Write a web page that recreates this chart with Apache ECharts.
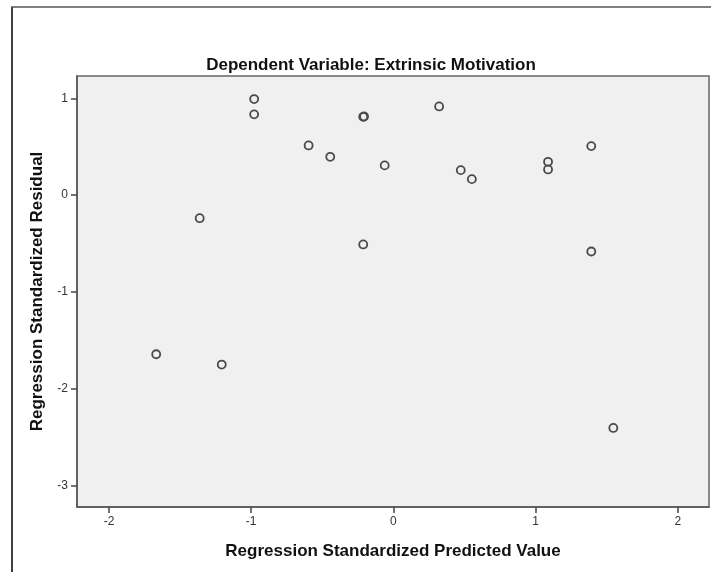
<!DOCTYPE html>
<html>
<head>
<meta charset="utf-8">
<script src="https://cdn.jsdelivr.net/npm/echarts@6/dist/echarts.min.js"></script>
<style>
html,body{margin:0;padding:0;background:#fff;}
#c{width:711px;height:572px;}
</style>
</head>
<body>
<div id="c"></div>
<script>
const predicted = [-0.979, -0.979, -0.212, -0.206, -0.596, -0.444, -0.061, -1.362, -0.212, 0.322, 0.474, 0.552, 1.088, 1.088, 1.392, 1.392, -1.668, -1.207, 1.547];
const residual  = [0.992, 0.834, 0.809, 0.812, 0.513, 0.396, 0.307, -0.238, -0.509, 0.916, 0.258, 0.165, 0.344, 0.265, 0.506, -0.582, -1.643, -1.749, -2.404];
const xTicks = [-2, -1, 0, 1, 2];
const yTicks = [-3, -2, -1, 0, 1];
const titleText = 'Dependent Variable: Extrinsic Motivation';
const xName = 'Regression Standardized Predicted Value';
const yName = 'Regression Standardized Residual';

const points = predicted.map((x, i) => [x, residual[i]]);
const chart = echarts.init(document.getElementById('c'), null, {renderer: 'canvas'});
const fontFam = '"Liberation Sans", Arial, sans-serif';
chart.setOption({
  animation: false,
  backgroundColor: '#ffffff',
  title: {
    text: titleText,
    left: 366, top: 52, textAlign: 'center',
    textStyle: {fontFamily: fontFam, fontSize: 17, fontWeight: 'bold', color: '#111'}
  },
  grid: {left: 77, right: 2, top: 76, bottom: 65, show: true, backgroundColor: '#f0f0f0', borderColor: '#666', borderWidth: 1.5},
  xAxis: {
    type: 'value', min: -2.225, max: 2.22,
    name: xName, nameLocation: 'middle', nameGap: 36,
    nameTextStyle: {fontFamily: fontFam, fontSize: 17, fontWeight: 'bold', color: '#111'},
    axisLine: {show: true, onZero: false, lineStyle: {color: '#555', width: 1.5}},
    axisTick: {show: true, length: 6, customValues: xTicks, lineStyle: {color: '#444', width: 1.5}},
    axisLabel: {customValues: xTicks, fontFamily: fontFam, fontSize: 12, color: '#333', margin: 9},
    splitLine: {show: false}
  },
  yAxis: {
    type: 'value', min: -3.22, max: 1.23,
    name: yName, nameLocation: 'middle', nameGap: 31, nameRotate: 90,
    nameTextStyle: {fontFamily: fontFam, fontSize: 17, fontWeight: 'bold', color: '#111'},
    axisLine: {show: true, onZero: false, lineStyle: {color: '#555', width: 1.5}},
    axisTick: {show: true, length: 6, customValues: yTicks, lineStyle: {color: '#444', width: 1.5}},
    axisLabel: {customValues: yTicks, fontFamily: fontFam, fontSize: 12, color: '#333', margin: 9},
    splitLine: {show: false}
  },
  graphic: [
    {type: 'line', shape: {x1: 12, y1: 7, x2: 12, y2: 572}, style: {stroke: '#000', lineWidth: 1.5}, silent: true},
    {type: 'line', shape: {x1: 11, y1: 7, x2: 711, y2: 7}, style: {stroke: '#555', lineWidth: 1.5}, silent: true}
  ],
  series: [{
    type: 'scatter',
    data: points,
    symbol: 'circle',
    symbolSize: 8,
    itemStyle: {color: 'rgba(0,0,0,0)', borderColor: '#4a4a4a', borderWidth: 1.8, opacity: 1}
  }]
});
</script>
</body>
</html>
